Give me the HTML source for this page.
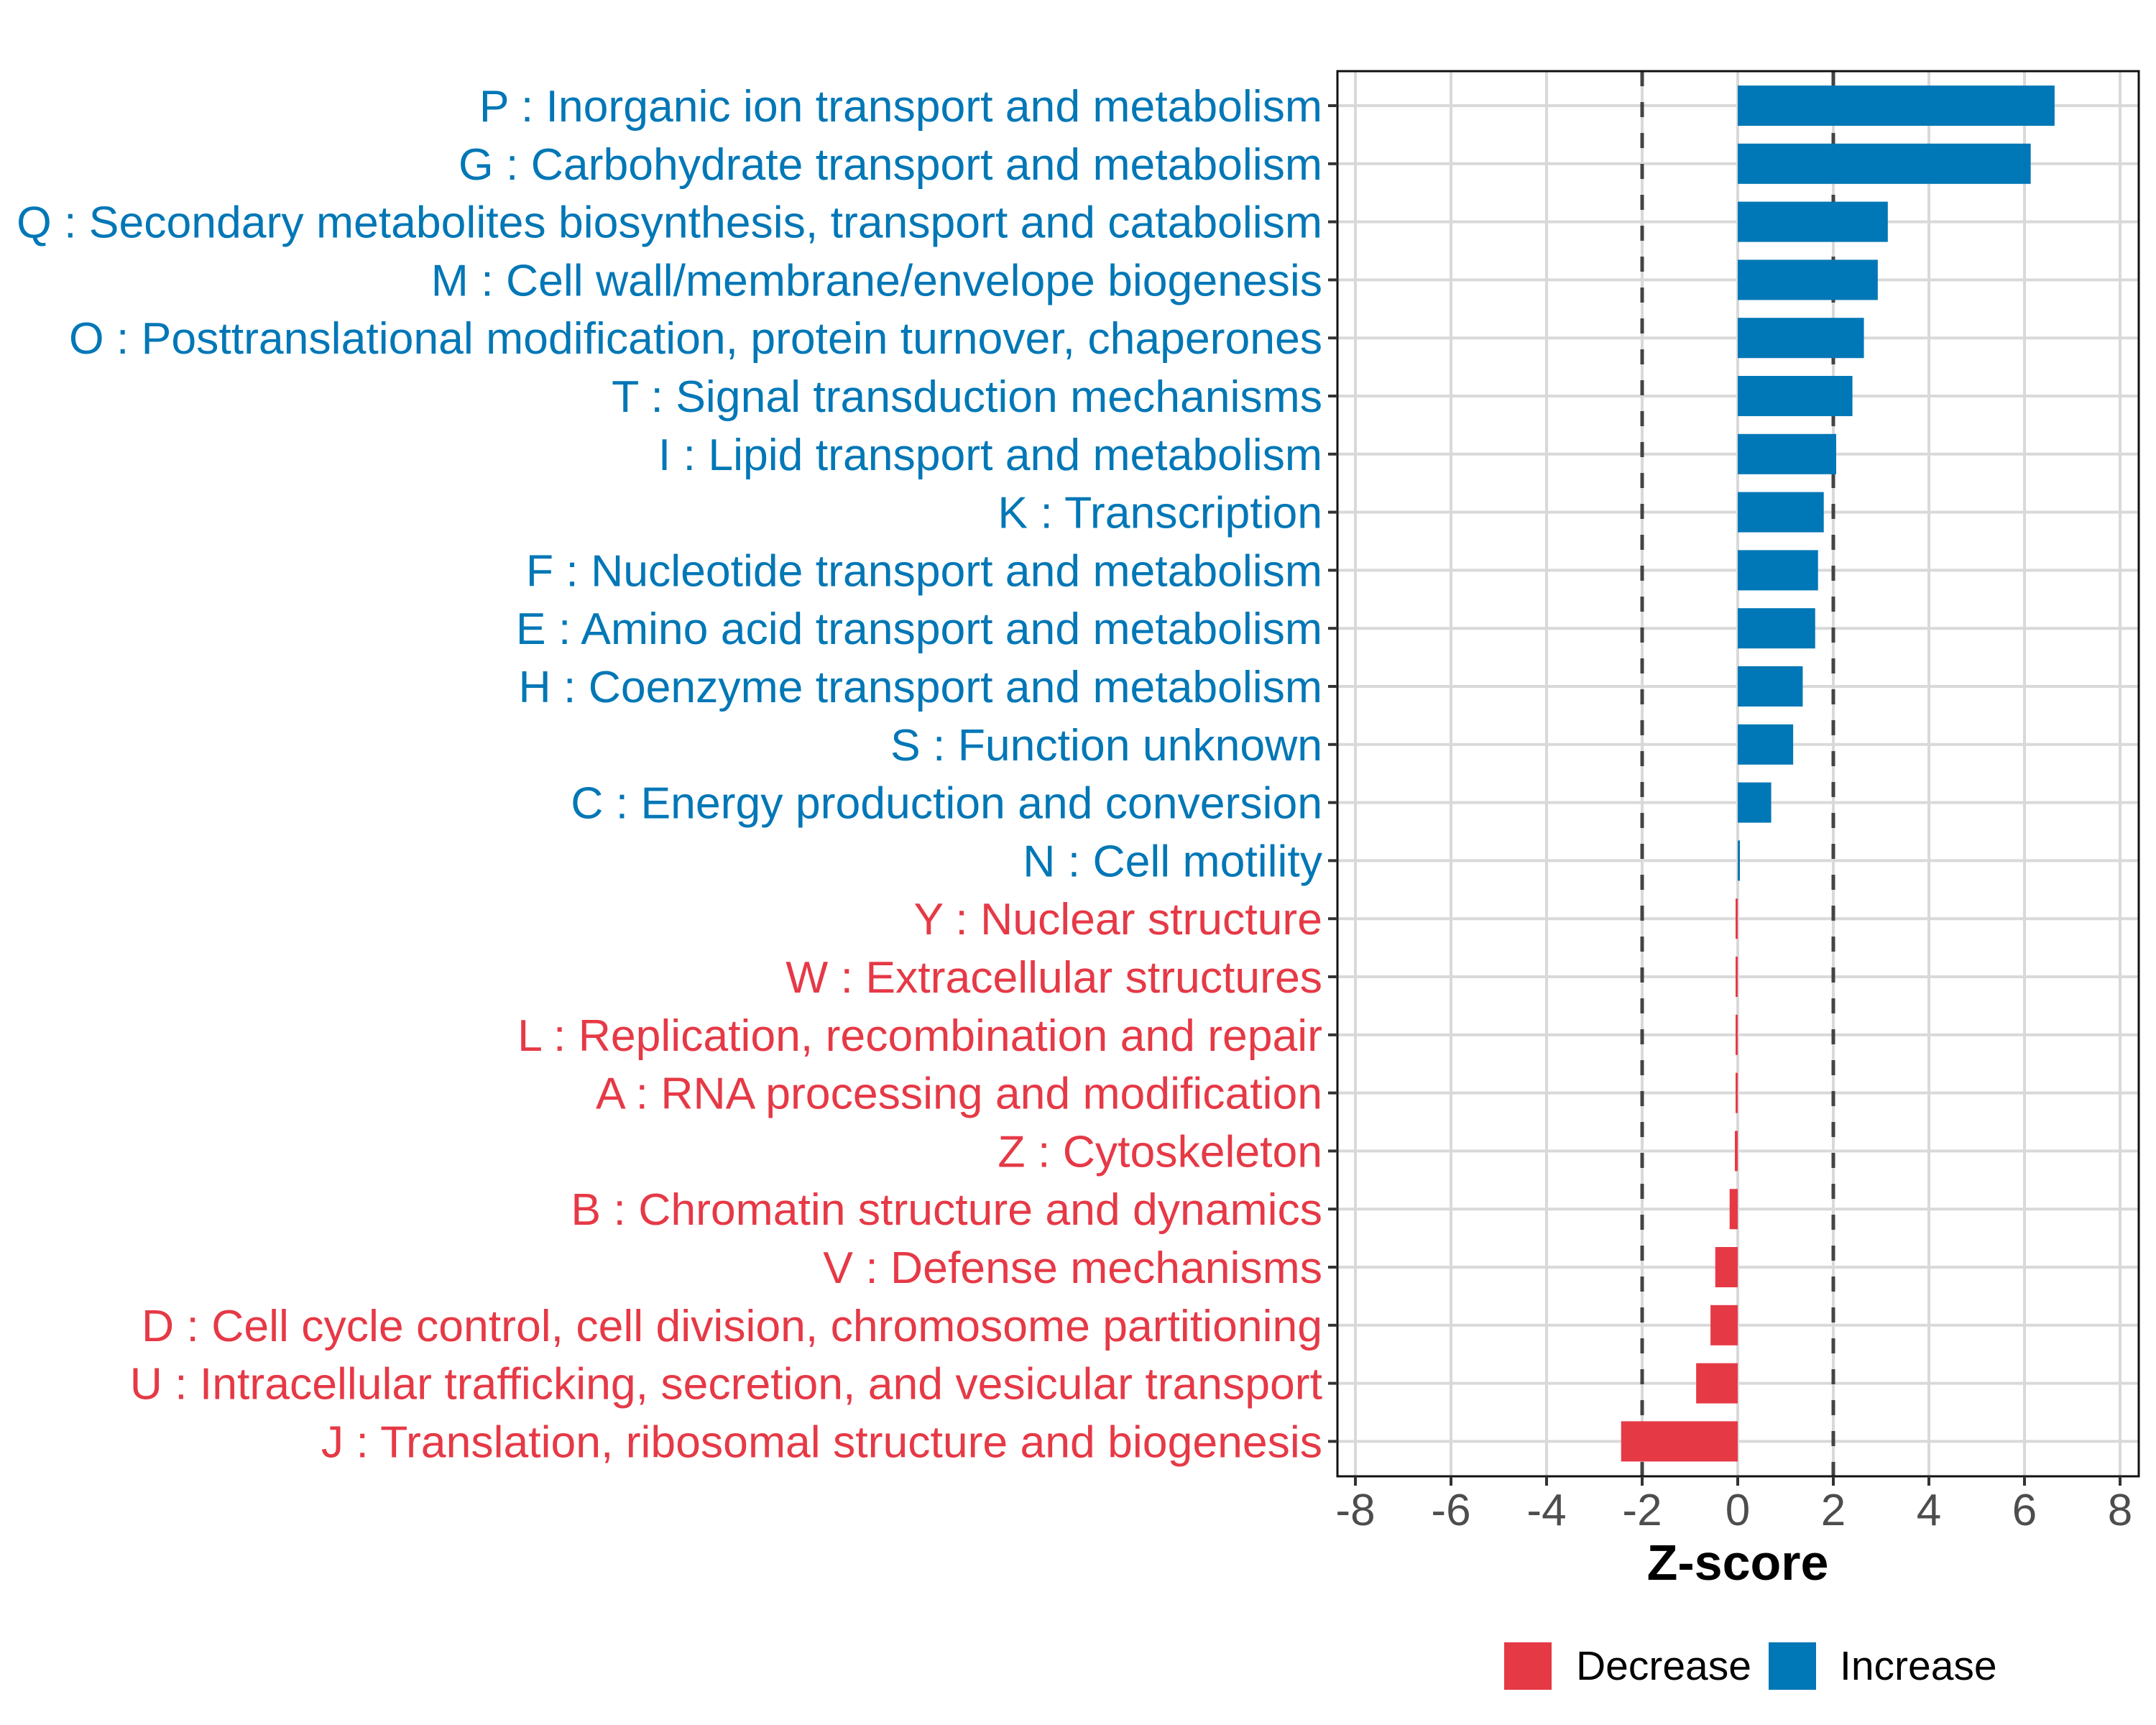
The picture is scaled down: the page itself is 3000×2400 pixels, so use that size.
<!DOCTYPE html>
<html><head><meta charset="utf-8"><style>
html,body{margin:0;padding:0;background:#fff;width:3000px;height:2400px;overflow:hidden}
svg{display:block;font-family:"Liberation Sans",Arial,sans-serif}
</style></head><body>
<svg id="chart" width="3000" height="2400" viewBox="0 0 3000 2400" xmlns="http://www.w3.org/2000/svg">
<rect x="0" y="0" width="3000" height="2400" fill="#fff"/>
<g id="grid"></g>
<g id="refs"></g>
<g id="bars"></g>
<rect x="1861" y="99" width="1115" height="1955" fill="none" stroke="#111" stroke-width="3"/>
<g id="ylab"></g>
<g id="xax"></g>
<text x="2418" y="2198" font-size="70" font-weight="bold" text-anchor="middle" fill="#000">Z-score</text>
<g>
<rect x="2093" y="2285" width="66" height="66" fill="#E63946"/>
<text x="2193" y="2337" font-size="57" fill="#000">Decrease</text>
<rect x="2461" y="2285" width="66" height="66" fill="#0077B6"/>
<text x="2560" y="2337" font-size="57" fill="#000">Increase</text>
</g>
</svg>
<script>
const categories = ["P : Inorganic ion transport and metabolism","G : Carbohydrate transport and metabolism","Q : Secondary metabolites biosynthesis, transport and catabolism","M : Cell wall/membrane/envelope biogenesis","O : Posttranslational modification, protein turnover, chaperones","T : Signal transduction mechanisms","I : Lipid transport and metabolism","K : Transcription","F : Nucleotide transport and metabolism","E : Amino acid transport and metabolism","H : Coenzyme transport and metabolism","S : Function unknown","C : Energy production and conversion","N : Cell motility","Y : Nuclear structure","W : Extracellular structures","L : Replication, recombination and repair","A : RNA processing and modification","Z : Cytoskeleton","B : Chromatin structure and dynamics","V : Defense mechanisms","D : Cell cycle control, cell division, chromosome partitioning","U : Intracellular trafficking, secretion, and vesicular transport","J : Translation, ribosomal structure and biogenesis"];
const zscores = [6.63,6.13,3.14,2.93,2.64,2.4,2.06,1.8,1.68,1.62,1.36,1.16,0.7,0.045,-0.045,-0.045,-0.045,-0.045,-0.06,-0.17,-0.47,-0.57,-0.87,-2.44];
const xTicks = [-8,-6,-4,-2,0,2,4,6,8];
const thresholds = [-2,2];

const NS="http://www.w3.org/2000/svg";
const X0=1861,X1=2976,Y0=99,Y1=2054;
const xs=v=>2418+v*66.5;
const ys=i=>147+i*80.8;
const BH=56;
const BLUE="#0077B6",RED="#E63946";
function mk(tag,attrs,parent){const e=document.createElementNS(NS,tag);for(const k in attrs)e.setAttribute(k,attrs[k]);parent.appendChild(e);return e;}
const grid=document.getElementById('grid'),refs=document.getElementById('refs'),bars=document.getElementById('bars'),ylab=document.getElementById('ylab'),xax=document.getElementById('xax');
xTicks.forEach(t=>{
  const l=mk('line',{x1:xs(t),x2:xs(t),y1:Y0,y2:Y1,stroke:'#d9d9d9','stroke-width':4},grid);
  
  
  const tk=mk('line',{x1:xs(t),x2:xs(t),y1:Y1,y2:Y1+13,stroke:'#333','stroke-width':4},xax);
  
  
  const tx=mk('text',{x:xs(t),y:2122,'font-size':62,'text-anchor':'middle',fill:'#4d4d4d'},xax);
  tx.textContent=String(t);
  
  
});
categories.forEach((c,i)=>{
  const l=mk('line',{x1:X0,x2:X1,y1:ys(i),y2:ys(i),stroke:'#d9d9d9','stroke-width':4},grid);
  
  
  const tk=mk('line',{x1:X0-13,x2:X0,y1:ys(i),y2:ys(i),stroke:'#333','stroke-width':4},ylab);
  
  
  const v=zscores[i];
  const col=v>=0?BLUE:RED;
  const tx=mk('text',{x:1840,y:ys(i)+22,'font-size':62.5,'text-anchor':'end',fill:col},ylab);
  tx.textContent=c;
  
  
  const a=Math.min(xs(0),xs(v)),w=Math.abs(xs(v)-xs(0));
  const r=mk('rect',{x:a,y:ys(i)-BH/2,width:w,height:BH,fill:col},bars);
  
  
});
thresholds.forEach(t=>{
  const l=mk('line',{x1:xs(t),x2:xs(t),y1:Y0,y2:Y1,stroke:'#444','stroke-width':5,'stroke-dasharray':'21 22'},refs);
  
  
});
</script>
</body></html>
